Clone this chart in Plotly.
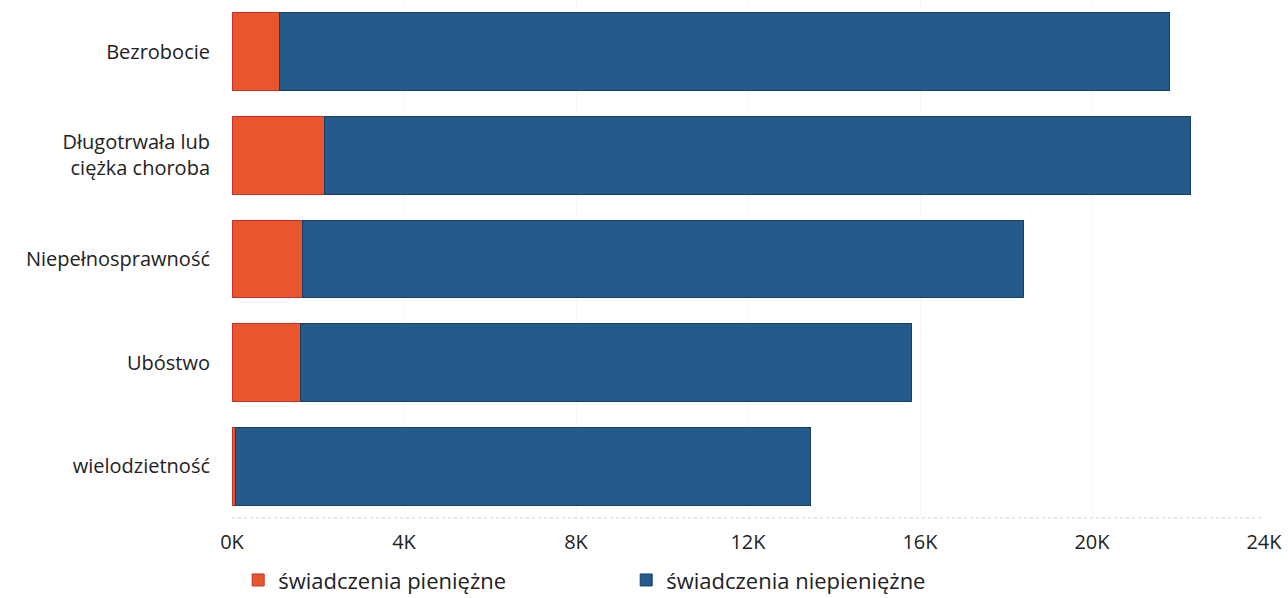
import plotly.graph_objects as go

categories = ["Bezrobocie", "Długotrwała lub<br>ciężka choroba", "Niepełnosprawność", "Ubóstwo", "wielodzietność"]
cash = [1100, 2150, 1650, 1600, 80]
total = [21800, 22300, 18400, 15800, 13450]
noncash = [t - c for t, c in zip(total, cash)]
tick_vals = [0, 4000, 8000, 12000, 16000, 20000, 24000]
tick_text = ["0K", "4K", "8K", "12K", "16K", "20K", "24K"]
series_names = ["świadczenia pieniężne", "świadczenia niepieniężne"]

fig = go.Figure()
fig.add_trace(go.Bar(
    y=categories, x=cash, orientation="h", name=series_names[0],
    marker=dict(color="#E9562B", line=dict(color="#C8322A", width=1)),
))
fig.add_trace(go.Bar(
    y=categories, x=noncash, orientation="h", name=series_names[1],
    marker=dict(color="#245A8C", line=dict(color="#163E66", width=1)),
))

fig.update_layout(
    barmode="stack",
    bargap=0.25,
    width=1288, height=598,
    margin=dict(l=232, r=24, t=0, b=80, autoexpand=False),
    paper_bgcolor="white", plot_bgcolor="white",
    font=dict(family="Open Sans", size=20, color="#222222"),
    showlegend=True,
    legend=dict(
        orientation="h", x=0.006, xanchor="left", y=-0.12, yanchor="middle",
        font=dict(size=22, color="#222222"),
        entrywidth=343, entrywidthmode="pixels",
        traceorder="normal", itemwidth=30,
    ),
    xaxis=dict(
        range=[0, 24000], tickvals=tick_vals, ticktext=tick_text,
        showgrid=True, gridcolor="#f7f7f7", gridwidth=1,
        zeroline=False, showline=False, automargin=False,
        ticks="outside", ticklen=6, tickcolor="rgba(0,0,0,0)",
        tickfont=dict(size=20, color="#222222"),
    ),
    yaxis=dict(
        range=[4.5, -0.5], showgrid=False, zeroline=False, showline=False,
        automargin=False,
        ticks="outside", ticklen=17, tickcolor="rgba(0,0,0,0)",
        tickfont=dict(size=20, color="#222222"),
    ),
    shapes=[dict(type="line", xref="paper", yref="paper", x0=0, x1=1, y0=0, y1=0,
                 line=dict(color="#d0d0d0", width=1, dash="dot"))],
)

fig.write_html(
    "out.html",
    config={"displayModeBar": False},
    post_script="document.body.style.margin='0';document.body.style.overflow='hidden';",
)
